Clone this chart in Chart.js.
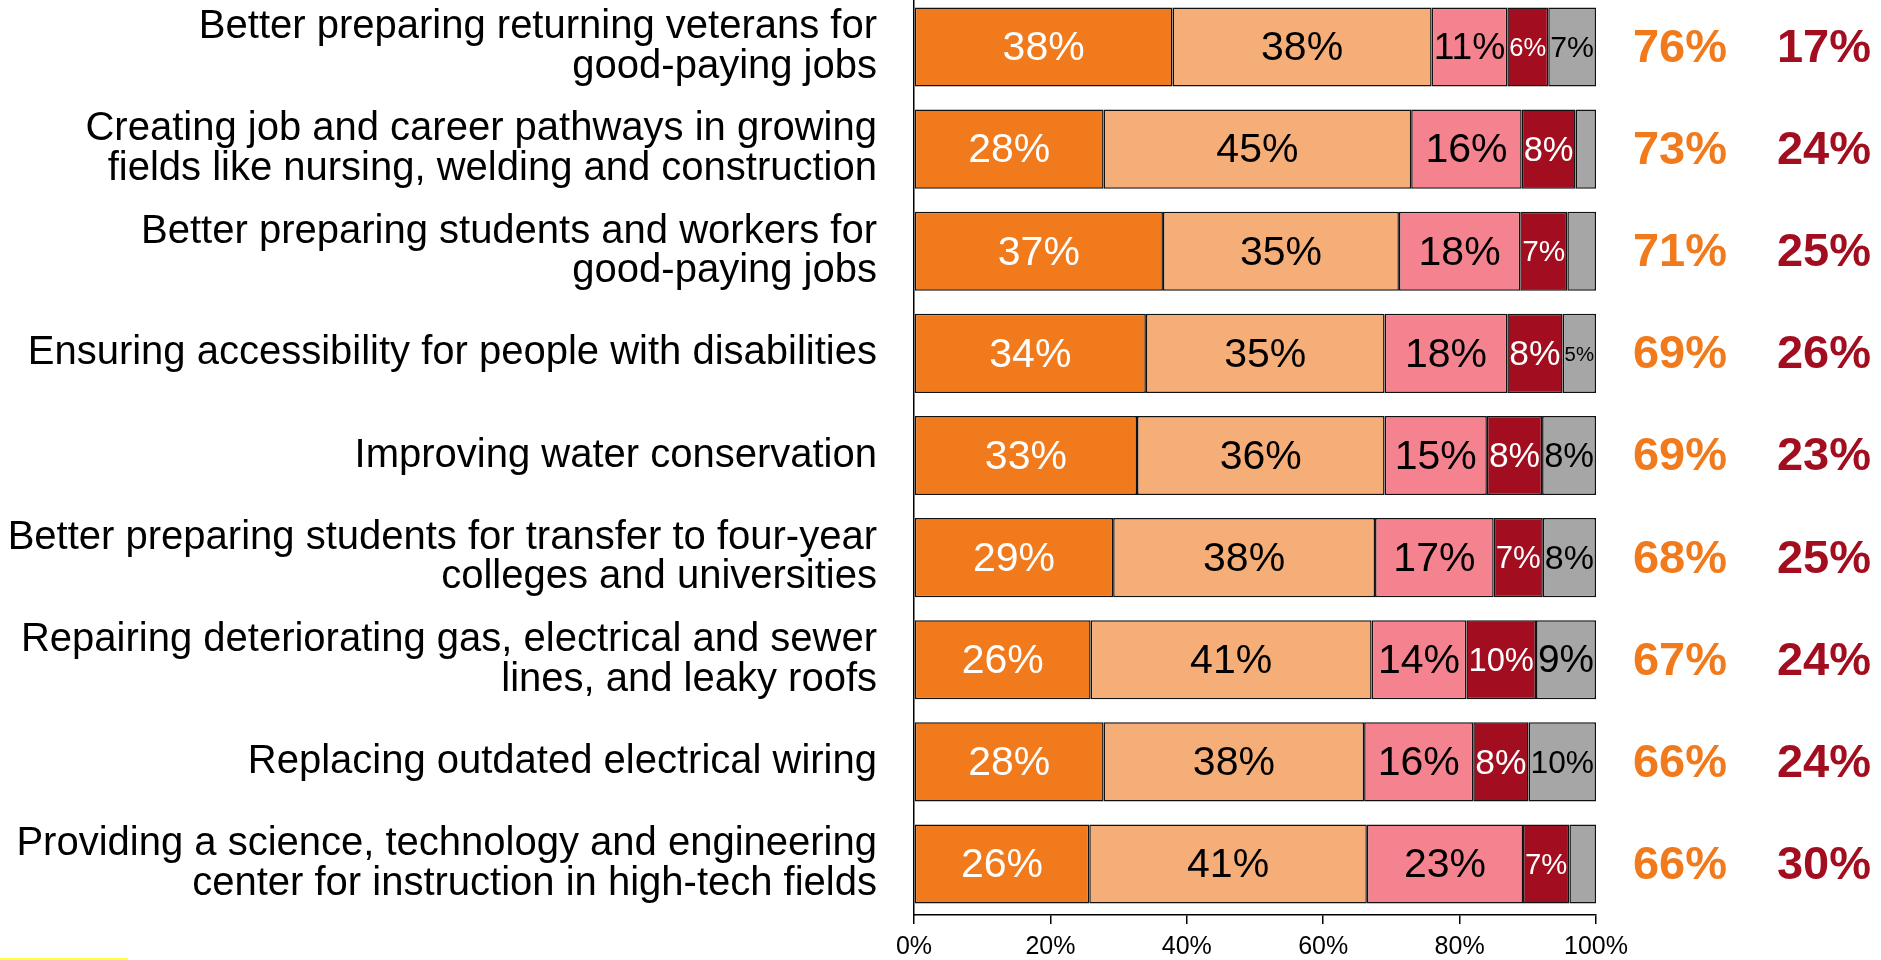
<!DOCTYPE html>
<html>
<head>
<meta charset="utf-8">
<script src="https://cdn.jsdelivr.net/npm/chart.js@4.4.1/dist/chart.umd.min.js"></script>
<style>
    html, body { margin: 0; padding: 0; background: #fff; overflow: hidden; }
    #wrap { position: absolute; left: 0; top: -4px; width: 1881px; height: 964px; }
    #mark { position: absolute; left: 0; top: 958px; width: 128px; height: 2px; background: #ffff3c; }
</style>
</head>
<body>
<div id="wrap"><canvas id="bar-chart"></canvas></div>
<div id="mark"></div>
<script>
// ---------------------------------------------------
const categories = [
    [ 'Better preparing returning veterans for', 'good-paying jobs' ],
    [ 'Creating job and career pathways in growing', 'fields like nursing, welding and construction' ],
    [ 'Better preparing students and workers for', 'good-paying jobs' ],
    'Ensuring accessibility for people with disabilities',
    'Improving water conservation',
    [ 'Better preparing students for transfer to four-year', 'colleges and universities' ],
    [ 'Repairing deteriorating gas, electrical and sewer', 'lines, and leaky roofs' ],
    'Replacing outdated electrical wiring',
    [ 'Providing a science, technology and engineering', 'center for instruction in high-tech fields' ]
];
const veryImportant     = [ 37.9, 27.8, 36.5, 34.0, 32.7, 29.2, 25.9, 27.8, 25.7 ];
const somewhatImportant = [ 38.0, 45.1, 34.6, 35.0, 36.3, 38.4, 41.2, 38.2, 40.7 ];
const notTooImportant   = [ 11.1, 16.2, 17.8, 18.0, 15.0, 17.4, 13.9, 16.0, 22.9 ];
const notAtAll          = [  6.0,  7.9,  6.9,  8.1,  8.1,  7.2, 10.2,  8.1,  6.8 ];
const dontKnow          = [  7.0,  3.0,  4.2,  4.9,  7.9,  7.8,  8.8,  9.9,  3.9 ];
const totalImportant    = [ 76, 73, 71, 69, 69, 68, 67, 66, 66 ];
const totalNotImportant = [ 17, 24, 25, 26, 23, 25, 24, 24, 30 ];
const xTicks = [ 0, 20, 40, 60, 80, 100 ];
// ---------------------------------------------------
const FONT = '"Liberation Sans", Arial, sans-serif';
const labelColors = [ '#fff', '#000', '#000', '#fff', '#000' ];

const segmentLabels = {
    id: 'segmentLabels',
    afterDatasetsDraw( chart ) {
        const ctx = chart.ctx;
        ctx.save();
        ctx.textAlign = 'center';
        ctx.textBaseline = 'middle';
        chart.data.datasets.forEach( ( ds, i ) => {
            const meta = chart.getDatasetMeta( i );
            meta.data.forEach( ( bar, j ) => {
                const v = ds.data[ j ];
                if ( v < 4.5 ) return;
                const text = Math.round( v ) + '%';
                const w = Math.abs( bar.x - bar.base );
                ctx.font = '41px ' + FONT;
                const tw = ctx.measureText( text ).width;
                let size = 41;
                if ( tw > w - 4 ) size = 41 * ( w - 4 ) / tw;
                ctx.font = size + 'px ' + FONT;
                ctx.fillStyle = labelColors[ i ];
                ctx.fillText( text, ( bar.x + bar.base ) / 2, bar.y + 2 );
            });
        });
        // totals on the right
        const meta0 = chart.getDatasetMeta( 0 );
        ctx.font = 'bold 47px ' + FONT;
        meta0.data.forEach( ( bar, j ) => {
            ctx.fillStyle = '#f07a1c';
            ctx.fillText( totalImportant[ j ] + '%', 1680, bar.y + 2 );
            ctx.fillStyle = '#a20e1f';
            ctx.fillText( totalNotImportant[ j ] + '%', 1824, bar.y + 2 );
        });
        ctx.restore();
    }
};

window.addEventListener( 'load', function () {
    const series = [
        { label: 'Very important', data: veryImportant, backgroundColor: '#f07a1c' },
        { label: 'Somewhat important', data: somewhatImportant, backgroundColor: '#f5ae78' },
        { label: 'Not too important', data: notTooImportant, backgroundColor: '#f4838f' },
        { label: 'Not at all important', data: notAtAll, backgroundColor: '#a20e1f' },
        { label: "Don't know", data: dontKnow, backgroundColor: '#a6a6a6' }
    ];
    series.forEach( s => {
        s.borderColor = '#111';
        s.borderWidth = 1.5;
        s.borderSkipped = false;
        s.barPercentage = 0.775;
        s.categoryPercentage = 1.0;
    });

    new Chart( document.querySelector( '#bar-chart' ), {
        type: 'bar',
        data: { labels: categories, datasets: series },
        plugins: [ segmentLabels ],
        options: {
            indexAxis: 'y',
            responsive: true,
            maintainAspectRatio: false,
            animation: false,
            layout: { padding: { left: 0, right: 285, top: 0, bottom: 0 } },
            plugins: { legend: { display: false }, tooltip: { enabled: false } },
            scales: {
                x: {
                    stacked: true,
                    min: 0,
                    max: 100,
                    afterBuildTicks: scale => { scale.ticks = xTicks.map( v => ({ value: v }) ); },
                    afterFit: scale => { scale.height = 45; scale.paddingLeft = 0; scale.paddingRight = 0; },
                    grid: { drawOnChartArea: false, drawTicks: true, tickLength: 9, color: '#000', lineWidth: 1.5 },
                    border: { color: '#000', width: 1.5 },
                    ticks: {
                        color: '#000',
                        padding: 8,
                        maxRotation: 0,
                        font: { family: FONT, size: 25 },
                        callback: v => v + '%'
                    }
                },
                y: {
                    stacked: true,
                    afterFit: scale => { scale.width = 914; scale.paddingTop = 0; scale.paddingBottom = 0; },
                    grid: { display: false, drawTicks: false, tickLength: 0 },
                    border: { color: '#000', width: 1.5 },
                    ticks: {
                        color: '#000',
                        padding: 37,
                        autoSkip: false,
                        font: { family: FONT, size: 40, lineHeight: 0.99 }
                    }
                }
            }
        }
    });
}, false );
</script>
</body>
</html>
